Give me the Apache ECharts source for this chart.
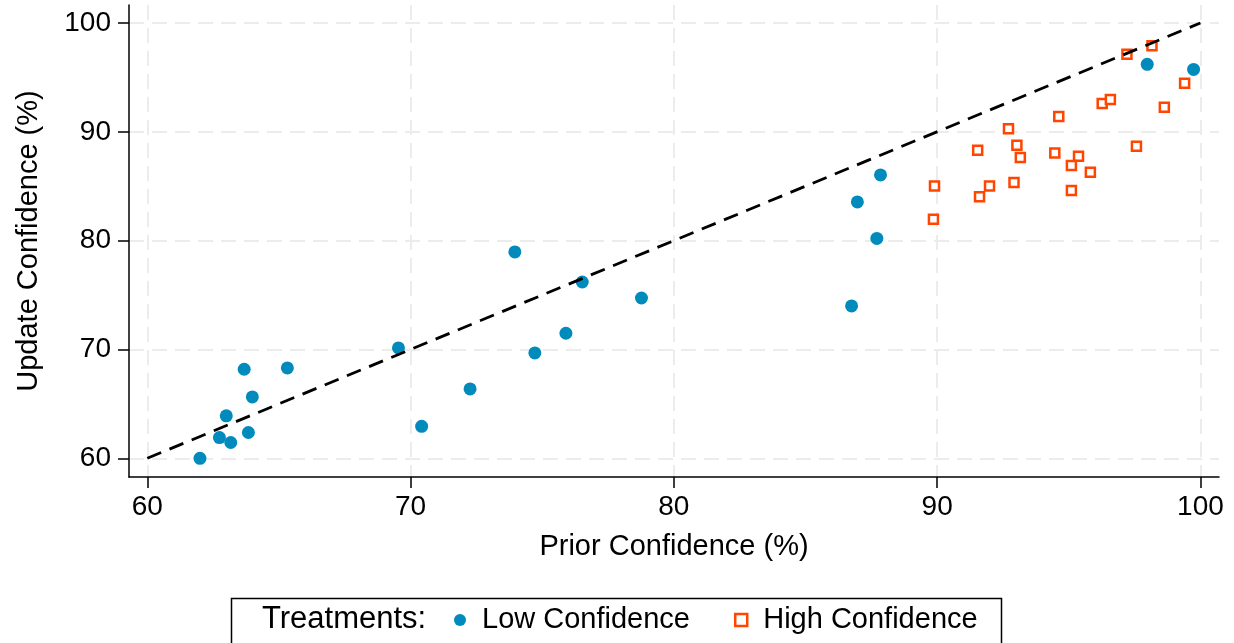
<!DOCTYPE html>
<html><head><meta charset="utf-8">
<script src="https://cdn.jsdelivr.net/npm/echarts@6/dist/echarts.min.js"></script>
<style>html,body{margin:0;padding:0;background:#fff}#c{width:1234px;height:643px}</style>
</head><body><div id="c"></div>
<script>
// Low Confidence treatment: prior (x) and update (y) confidence, %
const lowX = [62.0, 62.74, 63.17, 63.0, 63.84, 63.99, 63.68, 65.32, 69.54, 70.42, 72.26, 73.96, 74.72, 75.9, 76.52, 78.77, 86.75, 86.97, 87.71, 87.85, 97.98, 99.74];
const lowY = [60.0, 61.9, 61.45, 63.9, 62.37, 65.64, 68.18, 68.3, 70.14, 62.94, 66.37, 78.96, 69.68, 71.49, 76.2, 74.73, 74.0, 83.56, 80.2, 86.04, 96.2, 95.73];
// High Confidence treatment
const highX = [89.9, 89.86, 91.54, 91.61, 91.99, 92.71, 93.03, 93.16, 92.92, 94.62, 94.47, 95.37, 95.1, 95.82, 95.1, 96.27, 96.58, 97.21, 98.16, 98.63, 97.57, 99.4];
const highY = [85.03, 81.97, 88.3, 84.02, 85.03, 90.27, 88.77, 87.64, 85.34, 91.4, 88.06, 87.76, 86.9, 86.29, 84.6, 92.6, 92.97, 97.13, 97.9, 92.25, 88.68, 94.47];
// 45-degree reference line
const refLineX = [60, 100];
const refLineY = [60, 100];
const xTicks = [60, 70, 80, 90, 100];
const yTicks = [60, 70, 80, 90, 100];
const seriesNames = ['Low Confidence', 'High Confidence'];
const legendTitle = 'Treatments:';
const xTitle = 'Prior Confidence (%)';
const yTitle = 'Update Confidence (%)';

const FONT = '"Liberation Sans", Arial, sans-serif';
const BLUE = '#008bbc';
const ORANGE = '#ff4500';

const zip = (a, b) => a.map((v, i) => [v, b[i]]);

const chart = echarts.init(document.getElementById('c'), null, {renderer: 'canvas'});

const gridLine = {show: true, lineStyle: {color: '#ececec', width: 2, type: [15, 8]}};

chart.setOption({
  animation: false,
  backgroundColor: '#fff',
  textStyle: {fontFamily: FONT},
  grid: {left: 129, right: 15, top: 5, bottom: 166, outerBoundsMode: 'none', containLabel: false},
  xAxis: {
    type: 'value', min: 59.305, max: 100.706,
    name: xTitle, nameLocation: 'middle', nameGap: 55,
    nameTextStyle: {fontSize: 29, color: '#000', fontFamily: FONT},
    axisLine: {show: true, onZero: false, lineStyle: {color: '#000', width: 1.5}},
    axisTick: {show: true, length: 11, inside: false, customValues: xTicks, lineStyle: {color: '#000', width: 1.5}},
    axisLabel: {show: true, customValues: xTicks, fontSize: 28, color: '#000', margin: 16, fontFamily: FONT},
    splitLine: gridLine
  },
  yAxis: {
    type: 'value', min: 58.28, max: 101.65,
    name: yTitle, nameLocation: 'middle', nameGap: 86, nameRotate: 90,
    nameTextStyle: {fontSize: 29, color: '#000', fontFamily: FONT},
    axisLine: {show: true, onZero: false, lineStyle: {color: '#000', width: 1.5}},
    axisTick: {show: true, length: 11, inside: false, customValues: yTicks, lineStyle: {color: '#000', width: 1.5}},
    axisLabel: {show: true, customValues: yTicks, fontSize: 28, color: '#000', margin: 18, fontFamily: FONT},
    splitLine: gridLine
  },
  legend: {
    left: 454, top: 605, orient: 'horizontal', padding: 0,
    itemWidth: 34, itemHeight: 12, itemGap: 44,
    textStyle: {fontSize: 29, color: '#000', fontFamily: FONT, lineHeight: 30},
    data: [
      {name: seriesNames[0], icon: 'circle', itemStyle: {color: BLUE, borderWidth: 0}},
      {name: seriesNames[1], icon: 'path://M0,0H10V10H0Z', itemStyle: {color: '#fff', borderColor: ORANGE, borderWidth: 2.5}}
    ]
  },
  graphic: [
    {type: 'rect', left: 229, top: 596, shape: {width: 770, height: 80}, style: {fill: 'none', stroke: '#000', lineWidth: 1.5}, z: 10},
    {type: 'text', left: 262, top: 604, style: {text: legendTitle, fontSize: 31, fill: '#000', fontFamily: FONT, lineHeight: 30}, z: 10}
  ],
  series: [
    {
      name: seriesNames[0], type: 'scatter', data: zip(lowX, lowY),
      symbol: 'circle', symbolSize: 13,
      itemStyle: {color: BLUE, opacity: 1}, z: 3
    },
    {
      name: seriesNames[1], type: 'scatter', data: zip(highX, highY),
      symbol: 'rect', symbolSize: 9,
      itemStyle: {color: '#fff', borderColor: ORANGE, borderWidth: 2.5, opacity: 1}, z: 3
    },
    {
      name: 'ref', type: 'line', data: zip(refLineX, refLineY),
      symbol: 'none', silent: true,
      lineStyle: {color: '#000', width: 2.8, type: [15, 9]}, z: 5
    }
  ]
});
</script>
</body></html>
